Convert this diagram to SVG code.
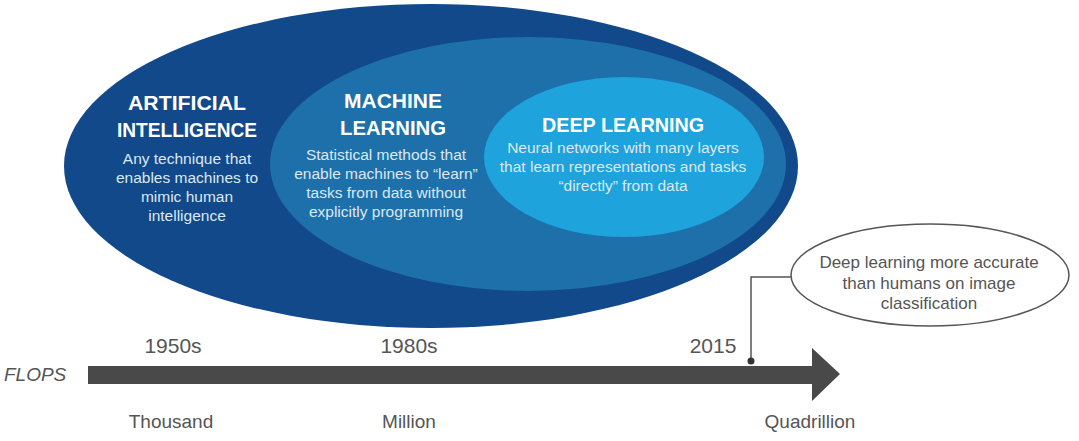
<svg xmlns="http://www.w3.org/2000/svg" width="1079" height="441" viewBox="0 0 1079 441">
<style>
.t{font-family:"Liberation Sans",Arial,sans-serif;fill:#fff;text-anchor:middle}
.h{font-weight:bold;font-size:21px}
.d{font-size:15.5px;fill:#dce8f4}
.g{font-family:"Liberation Sans",Arial,sans-serif;fill:#555;text-anchor:middle;font-size:19px}
.n{font-size:21px}
.c{font-family:"Liberation Sans",Arial,sans-serif;fill:#555;text-anchor:middle;font-size:17px}
</style>
<rect width="1079" height="441" fill="#fff"/>
<g id="ai">
<ellipse cx="431" cy="166" rx="367" ry="162" fill="#11498a"/>
<text class="t h" x="187" y="110" textLength="118" lengthAdjust="spacingAndGlyphs">ARTIFICIAL</text>
<text class="t h" x="187" y="137" textLength="140" lengthAdjust="spacingAndGlyphs">INTELLIGENCE</text>
<text class="t d" x="187" y="164">Any technique that</text>
<text class="t d" x="187" y="183">enables machines to</text>
<text class="t d" x="187" y="202">mimic human</text>
<text class="t d" x="187" y="221">intelligence</text>
</g>
<g id="ml">
<ellipse cx="528" cy="164" rx="258" ry="127" fill="#1d70aa"/>
<text class="t h" x="393" y="108" textLength="98" lengthAdjust="spacingAndGlyphs">MACHINE</text>
<text class="t h" x="393" y="135" textLength="106" lengthAdjust="spacingAndGlyphs">LEARNING</text>
<text class="t d" x="386" y="160">Statistical methods that</text>
<text class="t d" x="386" y="179">enable machines to “learn”</text>
<text class="t d" x="386" y="198">tasks from data without</text>
<text class="t d" x="386" y="217">explicitly programming</text>
</g>
<g id="dl">
<ellipse cx="624" cy="157" rx="140" ry="80" fill="#1ea3dc"/>
<text class="t h" x="623" y="132" textLength="162" lengthAdjust="spacingAndGlyphs">DEEP LEARNING</text>
<text class="t d" x="623" y="153">Neural networks with many layers</text>
<text class="t d" x="623" y="172">that learn representations and tasks</text>
<text class="t d" x="623" y="191">“directly” from data</text>
</g>
<g id="timeline">
<polygon points="88,366 812,366 812,348 840,374 812,401 812,384 88,384" fill="#494949"/>
<text class="g" x="4" y="381" font-style="italic" style="text-anchor:start">FLOPS</text>
<text class="g n" x="173" y="353">1950s</text>
<text class="g n" x="409" y="353">1980s</text>
<text class="g n" x="713" y="353">2015</text>
<text class="g" x="171" y="428">Thousand</text>
<text class="g" x="409" y="428">Million</text>
<text class="g" x="810" y="428">Quadrillion</text>
</g>
<g id="callout">
<ellipse cx="930" cy="275" rx="139" ry="51" fill="#fff" stroke="#555" stroke-width="1.5"/>
<text class="c" x="929" y="268">Deep learning more accurate</text>
<text class="c" x="929" y="289">than humans on image</text>
<text class="c" x="929" y="309">classification</text>
</g>
<g id="connectors">
<polyline points="791,277 751,277 751,361" fill="none" stroke="#555" stroke-width="1.5"/>
<circle cx="751" cy="361" r="3.5" fill="#333"/>
</g>
</svg>
